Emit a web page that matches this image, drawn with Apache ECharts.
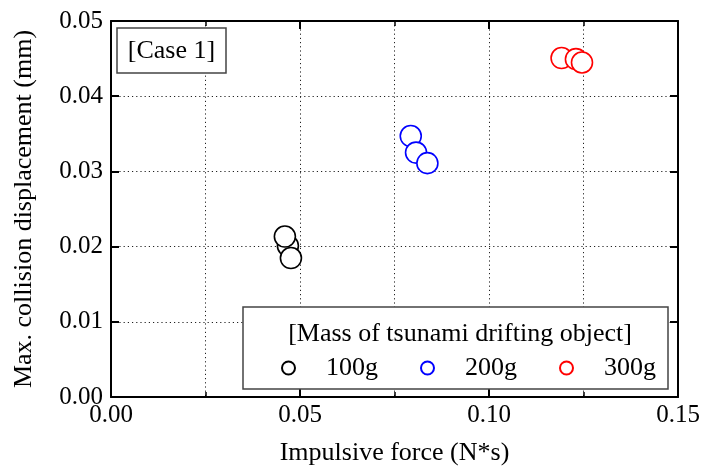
<!DOCTYPE html>
<html><head><meta charset="utf-8">
<script src="https://cdn.jsdelivr.net/npm/echarts@6/dist/echarts.min.js"></script>
<style>html,body{margin:0;padding:0;background:#fff}#c{width:704px;height:471px}</style>
</head><body><div id="c"></div>
<script>
const xTicks = [0, 0.05, 0.10, 0.15];
const yTicks = [0, 0.01, 0.02, 0.03, 0.04, 0.05];
const seriesNames = ['100g', '200g', '300g'];
const seriesColors = ['#000000', '#0000ff', '#ff0000'];
const mass100 = [[0.0468, 0.0201], [0.0460, 0.02134], [0.0476, 0.01848]];
const mass200 = [[0.0793, 0.0347], [0.0807, 0.0325], [0.0837, 0.0311]];
const mass300 = [[0.1192, 0.04507], [0.1230, 0.04493], [0.1246, 0.04448]];
const seriesData = [mass100, mass200, mass300];
const caseLabel = '[Case 1]';
const legendTitle = '[Mass of tsunami drifting object]';
const xName = 'Impulsive force (N*s)';
const yName = 'Max. collision displacement (mm)';

const FONT = 'Liberation Serif, Times New Roman, serif';
const chart = echarts.init(document.getElementById('c'));
const grid = {left: 111, right: 26, top: 21, bottom: 72};
const dotted = {show: true, lineStyle: {color: '#222', width: 1, type: [1.2, 3]}};
function xAxis(pos, labels) {
  return {
    type: 'value', position: pos, min: xTicks[0], max: xTicks[xTicks.length - 1],
    interval: xTicks[1] - xTicks[0],
    name: labels ? xName : '', nameLocation: 'middle', nameGap: 43,
    nameTextStyle: {fontFamily: FONT, fontSize: 26, color: '#000'},
    axisLine: {show: true, onZero: false, lineStyle: {color: '#000', width: 2}},
    axisTick: {show: true, inside: true, length: 8, lineStyle: {color: '#000', width: 2}},
    minorTick: {show: true, splitNumber: 2, length: 5, lineStyle: {color: '#000', width: 1.5}},
    axisLabel: {show: labels, margin: 6, fontFamily: FONT, fontSize: 25, color: '#000',
      formatter: v => v.toFixed(2)},
    splitLine: labels ? dotted : {show: false},
    minorSplitLine: labels ? dotted : {show: false}
  };
}
function yAxis(pos, labels) {
  return {
    type: 'value', position: pos, min: yTicks[0], max: yTicks[yTicks.length - 1],
    interval: yTicks[1] - yTicks[0],
    name: labels ? yName : '', nameLocation: 'middle', nameGap: 74,
    nameTextStyle: {fontFamily: FONT, fontSize: 26, color: '#000'},
    axisLine: {show: true, onZero: false, lineStyle: {color: '#000', width: 2}},
    axisTick: {show: true, inside: true, length: 8, lineStyle: {color: '#000', width: 2}},
    axisLabel: {show: labels, margin: 8, fontFamily: FONT, fontSize: 25, color: '#000',
      formatter: v => v.toFixed(2)},
    splitLine: labels ? dotted : {show: false}
  };
}
const series = seriesNames.map((n, i) => ({
  name: n, type: 'scatter', symbol: 'circle', symbolSize: 21,
  xAxisIndex: 0, yAxisIndex: 0,
  itemStyle: {color: '#fff', borderColor: seriesColors[i], borderWidth: 1.6, opacity: 1},
  data: seriesData[i], z: 5
}));
chart.setOption({
  animation: false,
  backgroundColor: '#fff',
  grid: grid,
  xAxis: [xAxis('bottom', true), xAxis('top', false)],
  yAxis: [yAxis('left', true), yAxis('right', false)],
  legend: {
    data: seriesNames, left: 281, top: 355, orient: 'horizontal', padding: 0,
    icon: 'circle', itemWidth: 13, itemHeight: 13, itemGap: 42,
    textStyle: {fontFamily: FONT, fontSize: 26, color: '#000', padding: [0, 0, 0, 26]},
    z: 10
  },
  graphic: [
    {type: 'rect', shape: {x: 243, y: 307, width: 425, height: 82}, z: 8,
      style: {fill: '#fff', stroke: '#444', lineWidth: 1.5}},
    {type: 'text', x: 460, y: 334, z: 9,
      style: {text: legendTitle, font: '26px ' + FONT, fill: '#000', textAlign: 'center', textVerticalAlign: 'middle'}},
    {type: 'rect', shape: {x: 117, y: 28, width: 109, height: 45}, z: 8,
      style: {fill: '#fff', stroke: '#444', lineWidth: 1.5}},
    {type: 'text', x: 171.5, y: 51, z: 9,
      style: {text: caseLabel, font: '26px ' + FONT, fill: '#000', textAlign: 'center', textVerticalAlign: 'middle'}}
  ],
  series: series
});
</script></body></html>
